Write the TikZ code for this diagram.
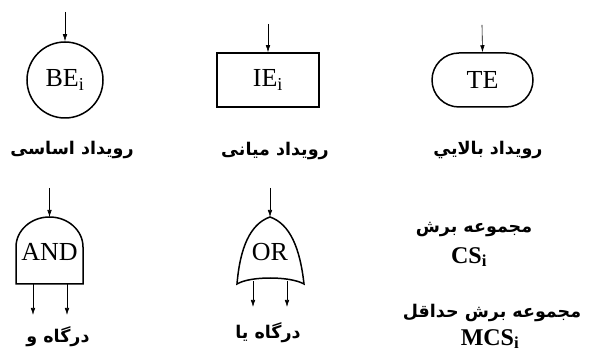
\documentclass[tikz,border=0pt]{standalone}
\usepackage{fontspec}
\setmainfont{Liberation Serif}
\newfontfamily\fa[Script=Arabic]{DejaVu Sans}
\TeXXeTstate=1
\usetikzlibrary{arrows.meta}
\begin{document}
\begin{tikzpicture}[x=1pt,y=-1pt,
  shp/.style={draw, line width=1.5pt, inner sep=0pt, font=\fontsize{26}{28}\selectfont},
  gate/.style={draw, line width=1.5pt},
  gtxt/.style={inner sep=0pt, font=\fontsize{26}{28}\selectfont},
  arr/.style={-{Latex[length=7pt,width=4.5pt]}, line width=0.6pt},
  lbl/.style={inner sep=0pt, font=\fa\bfseries\fontsize{17.5}{21}\selectfont},
  cs/.style={inner sep=0pt, font=\bfseries\fontsize{24}{26}\selectfont}]
\useasboundingbox (0,0) rectangle (589,352);
% top row
\node[shp, circle, minimum size=76pt] (be) at (65,80) {BE\textsubscript{i}};
\node[shp, rectangle, minimum width=102pt, minimum height=54pt] (ie) at (268,80) {IE\textsubscript{i}};
\node[shp, rectangle, rounded corners=27pt, minimum width=101pt, minimum height=54pt] (te) at (482.5,80) {TE};
\coordinate (bein) at (65,12);
\coordinate (iein) at (268,24);
\coordinate (tein) at (482,25);
\draw[arr] (bein) -- (be.north);
\draw[arr] (iein) -- (ie.north);
\draw[arr] (tein) -- (te.north);
\node[lbl] (lbe) at (72,150) {\beginR رویداد اساسی\endR};
\node[lbl] (lie) at (275,151) {\beginR رویداد میانی\endR};
\node[lbl] (lte) at (488,150) {\beginR رویداد بالايي\endR};
% AND gate
\draw[gate] (16,284) -- (16,247) arc[start angle=180,end angle=360,x radius=33.5,y radius=30] -- (83,284) -- cycle;
\node[gtxt] (and) at (49.5,252) {AND};
\coordinate (andtop) at (49.5,217);
\coordinate (andin) at (49.5,188);
\coordinate (ando1) at (33,284);
\coordinate (ando2) at (67,284);
\coordinate (andt1) at (33,315);
\coordinate (andt2) at (67,315);
\draw[arr] (andin) -- (andtop);
\draw[arr] (ando1) -- (andt1);
\draw[arr] (ando2) -- (andt2);
\node[lbl] (land) at (58,337) {\beginR درگاه و\endR};
% OR gate
\draw[gate] (237,284) .. controls (240,248) and (250,224) .. (270,217)
  .. controls (290,224) and (300,248) .. (304,284)
  .. controls (290,276) and (250,276) .. (237,284) -- cycle;
\node[gtxt] (or) at (270,252) {OR};
\coordinate (ortop) at (270,217);
\coordinate (orin) at (270,188);
\coordinate (oro1) at (253,281);
\coordinate (oro2) at (287,281);
\coordinate (ort1) at (253,307);
\coordinate (ort2) at (287,307);
\draw[arr] (orin) -- (ortop);
\draw[arr] (oro1) -- (ort1);
\draw[arr] (oro2) -- (ort2);
\node[lbl] (lor) at (268,333) {\beginR درگاه یا\endR};
% cut sets
\node[lbl] (lcs) at (474,230) {\beginR مجموعه برش\endR};
\node[cs] (cs) at (469,257) {CS\textsubscript{i}};
\node[lbl] (lmcs) at (492,313) {\beginR مجموعه برش حداقل\endR};
\node[cs] (mcs) at (490,339) {MCS\textsubscript{i}};
\end{tikzpicture}
\end{document}
